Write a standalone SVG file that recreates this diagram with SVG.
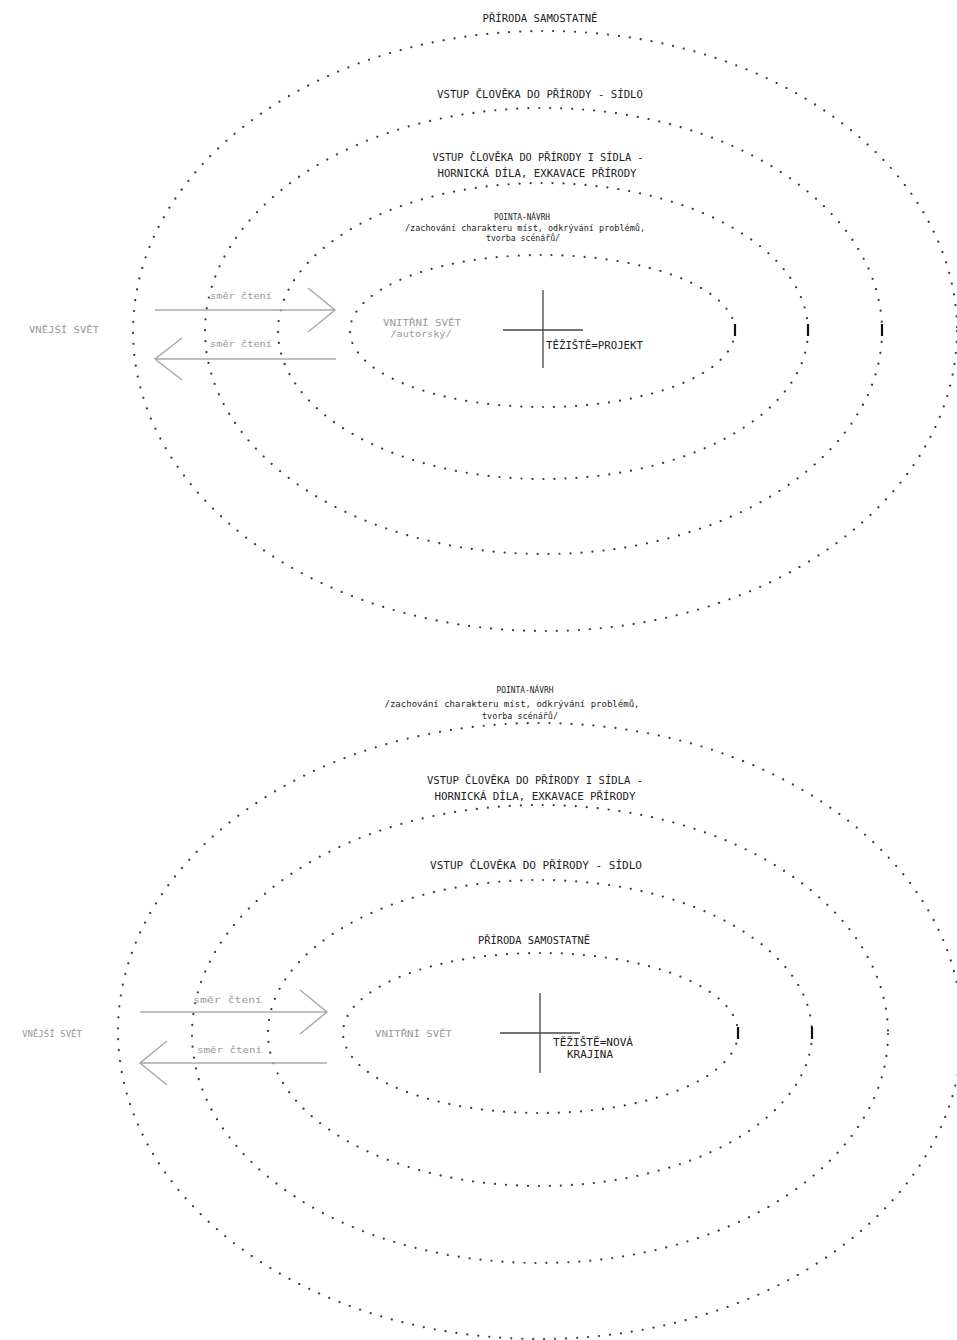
<svg xmlns="http://www.w3.org/2000/svg" width="957" height="1340" viewBox="0 0 957 1340">
<style>
.ring{fill:none;stroke:#3a3a3a;stroke-width:2.2;stroke-linecap:round;stroke-dasharray:0.01 11}
.lbl{font-family:"DejaVu Sans Mono","Liberation Mono",monospace;font-size:10px;fill:#222}
.sm{font-family:"DejaVu Sans Mono","Liberation Mono",monospace;font-size:9.5px;fill:#222}
.gray{font-family:"DejaVu Sans Mono","Liberation Mono",monospace;font-size:9.5px;fill:#999}
.mid{text-anchor:middle}
.arrow{fill:none;stroke:#aaa;stroke-width:1.5}
.cross{stroke:#444;stroke-width:1.3}
.tick{stroke:#111;stroke-width:2.2}
</style>
<rect width="957" height="1340" fill="#fff"/>

<!-- TOP DIAGRAM -->
<g id="top-priroda">
<ellipse class="ring" cx="545" cy="331" rx="412" ry="300"/>
<text class="lbl mid" x="540" y="22" textLength="115" lengthAdjust="spacingAndGlyphs">PŘÍRODA SAMOSTATNĚ</text>
</g>
<g id="top-sidlo">
<ellipse class="ring" cx="543.5" cy="331" rx="338.5" ry="223"/>
<text class="lbl mid" x="540" y="98" textLength="206" lengthAdjust="spacingAndGlyphs">VSTUP ČLOVĚKA DO PŘÍRODY - SÍDLO</text>
</g>
<g id="top-hornicka">
<ellipse class="ring" cx="543" cy="331" rx="265" ry="148"/>
<text class="lbl mid" x="538" y="161" textLength="211" lengthAdjust="spacingAndGlyphs">VSTUP ČLOVĚKA DO PŘÍRODY I SÍDLA -</text>
<text class="lbl mid" x="537" y="177" textLength="199" lengthAdjust="spacingAndGlyphs">HORNICKÁ DÍLA, EXKAVACE PŘÍRODY</text>
</g>
<g id="top-pointa">
<ellipse class="ring" cx="542.5" cy="331" rx="192.5" ry="76"/>
<text class="sm mid" x="522" y="220" textLength="56" lengthAdjust="spacingAndGlyphs">POINTA-NÁVRH</text>
<text class="sm mid" x="525" y="230.5" textLength="240" lengthAdjust="spacingAndGlyphs">/zachování charakteru míst, odkrývání problémů,</text>
<text class="sm mid" x="523" y="241" textLength="74" lengthAdjust="spacingAndGlyphs">tvorba scénářů/</text>
</g>
<g id="top-vnejsi">
<text class="gray" x="29" y="333" textLength="70" lengthAdjust="spacingAndGlyphs">VNĚJŠÍ SVĚT</text>
</g>
<g id="top-vnitrni">
<text class="gray mid" x="422" y="326" textLength="78" lengthAdjust="spacingAndGlyphs">VNITŘNÍ SVĚT</text>
<text class="gray mid" x="421" y="337" textLength="61" lengthAdjust="spacingAndGlyphs">/autorský/</text>
</g>
<g id="top-teziste">
<line class="cross" x1="543" y1="290" x2="543" y2="368"/>
<line class="cross" x1="503" y1="330" x2="583" y2="330"/>
<text class="lbl" x="546" y="349" textLength="97" lengthAdjust="spacingAndGlyphs">TĚŽIŠTĚ=PROJEKT</text>
</g>
<g id="top-ticks">
<line class="tick" x1="735" y1="324" x2="735" y2="336"/>
<line class="tick" x1="808" y1="324" x2="808" y2="336"/>
<line class="tick" x1="882" y1="324" x2="882" y2="336"/>
</g>

<!-- BOTTOM DIAGRAM -->
<g id="bot-pointa">
<ellipse class="ring" cx="540" cy="1031" rx="422" ry="308"/>
<text class="sm mid" x="525" y="693" textLength="57" lengthAdjust="spacingAndGlyphs">POINTA-NÁVRH</text>
<text class="sm mid" x="512" y="706.5" textLength="255" lengthAdjust="spacingAndGlyphs">/zachování charakteru míst, odkrývání problémů,</text>
<text class="sm mid" x="520" y="719" textLength="76" lengthAdjust="spacingAndGlyphs">tvorba scénářů/</text>
</g>
<g id="bot-hornicka">
<ellipse class="ring" cx="540" cy="1034" rx="348" ry="229"/>
<text class="lbl mid" x="535" y="784" textLength="216" lengthAdjust="spacingAndGlyphs">VSTUP ČLOVĚKA DO PŘÍRODY I SÍDLA -</text>
<text class="lbl mid" x="535" y="800" textLength="201" lengthAdjust="spacingAndGlyphs">HORNICKÁ DÍLA, EXKAVACE PŘÍRODY</text>
</g>
<g id="bot-sidlo">
<ellipse class="ring" cx="540" cy="1033" rx="272" ry="153"/>
<text class="lbl mid" x="536" y="869" textLength="212" lengthAdjust="spacingAndGlyphs">VSTUP ČLOVĚKA DO PŘÍRODY - SÍDLO</text>
</g>
<g id="bot-priroda">
<ellipse class="ring" cx="540.5" cy="1033" rx="197.5" ry="80"/>
<text class="lbl mid" x="534" y="944" textLength="112" lengthAdjust="spacingAndGlyphs">PŘÍRODA SAMOSTATNĚ</text>
</g>
<g id="bot-vnejsi">
<text class="gray" x="22" y="1037" textLength="60" lengthAdjust="spacingAndGlyphs">VNĚJŠÍ SVĚT</text>
</g>
<g id="bot-vnitrni">
<text class="gray" x="375" y="1037" textLength="77" lengthAdjust="spacingAndGlyphs">VNITŘNÍ SVĚT</text>
</g>
<g id="bot-teziste">
<line class="cross" x1="540" y1="993" x2="540" y2="1073"/>
<line class="cross" x1="500" y1="1033" x2="580" y2="1033"/>
<text class="lbl" x="553" y="1046" textLength="80" lengthAdjust="spacingAndGlyphs">TĚŽIŠTĚ=NOVÁ</text>
<text class="lbl" x="567" y="1058" textLength="46" lengthAdjust="spacingAndGlyphs">KRAJINA</text>
</g>
<g id="bot-ticks">
<line class="tick" x1="738" y1="1027" x2="738" y2="1039"/>
<line class="tick" x1="812" y1="1027" x2="812" y2="1039"/>
</g>

<!-- CONNECTORS -->
<g id="connectors">
<path class="arrow" d="M155 310 H335 M308 288 L335 310 L308 332"/>
<path class="arrow" d="M336 359 H155 M182 338 L155 359 L182 380"/>
<path class="arrow" d="M140 1012 H327 M300 990 L327 1012 L300 1034"/>
<path class="arrow" d="M327 1063 H140 M167 1041 L140 1063 L167 1085"/>
<text class="gray" x="210" y="299" textLength="62" lengthAdjust="spacingAndGlyphs">směr čtení</text>
<text class="gray" x="210" y="347" textLength="62" lengthAdjust="spacingAndGlyphs">směr čtení</text>
<text class="gray" x="193" y="1003" textLength="69" lengthAdjust="spacingAndGlyphs">směr čtení</text>
<text class="gray" x="197" y="1053" textLength="65" lengthAdjust="spacingAndGlyphs">směr čtení</text>
</g>
</svg>
